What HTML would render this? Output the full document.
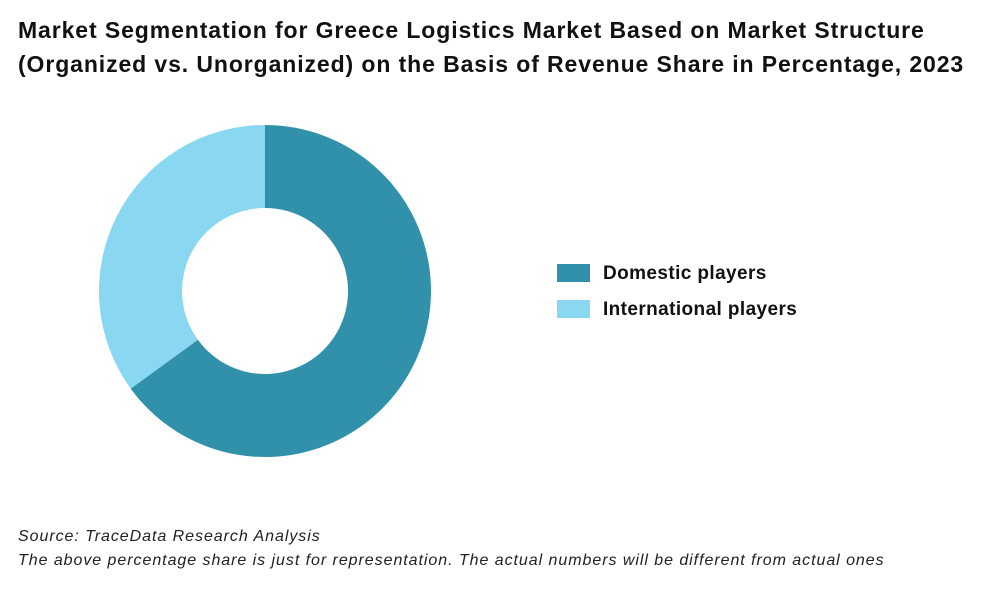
<!DOCTYPE html>
<html><head><meta charset="utf-8"><style>
body{margin:0;width:1000px;height:600px;background:#fff;position:relative;overflow:hidden;font-family:"Liberation Sans",sans-serif;}
.t{position:absolute;left:18px;top:13px;font-weight:bold;font-size:23px;line-height:34px;color:#111;letter-spacing:0.9px;white-space:nowrap}
.lg{position:absolute;left:557px;font-weight:bold;font-size:19px;color:#111;letter-spacing:0.4px}
.lg span{display:inline-block;width:33px;height:18px;vertical-align:-3px;margin-right:13px}
.s{position:absolute;left:18px;font-style:italic;font-size:16px;color:#222;letter-spacing:0.95px;white-space:nowrap}
</style></head><body>
<div class="t">Market Segmentation for Greece Logistics Market Based on Market Structure<br>(Organized vs. Unorganized) on the Basis of Revenue Share in Percentage, 2023</div>
<svg width="1000" height="600" style="position:absolute;left:0;top:0">
<path d="M265 125 A166 166 0 1 1 130.7 388.6 L197.9 339.8 A83 83 0 1 0 265 208 Z" fill="#3191AB"/>
<path d="M130.7 388.6 A166 166 0 0 1 265 125 L265 208 A83 83 0 0 0 197.9 339.8 Z" fill="#89D7F1"/>
</svg>
<div class="lg" style="top:263px"><span style="background:#3191AB"></span>Domestic players</div>
<div class="lg" style="top:299px"><span style="background:#89D7F1"></span>International players</div>
<div class="s" style="top:528px">Source: TraceData Research Analysis</div>
<div class="s" style="top:552px">The above percentage share is just for representation. The actual numbers will be different from actual ones</div>
</body></html>
